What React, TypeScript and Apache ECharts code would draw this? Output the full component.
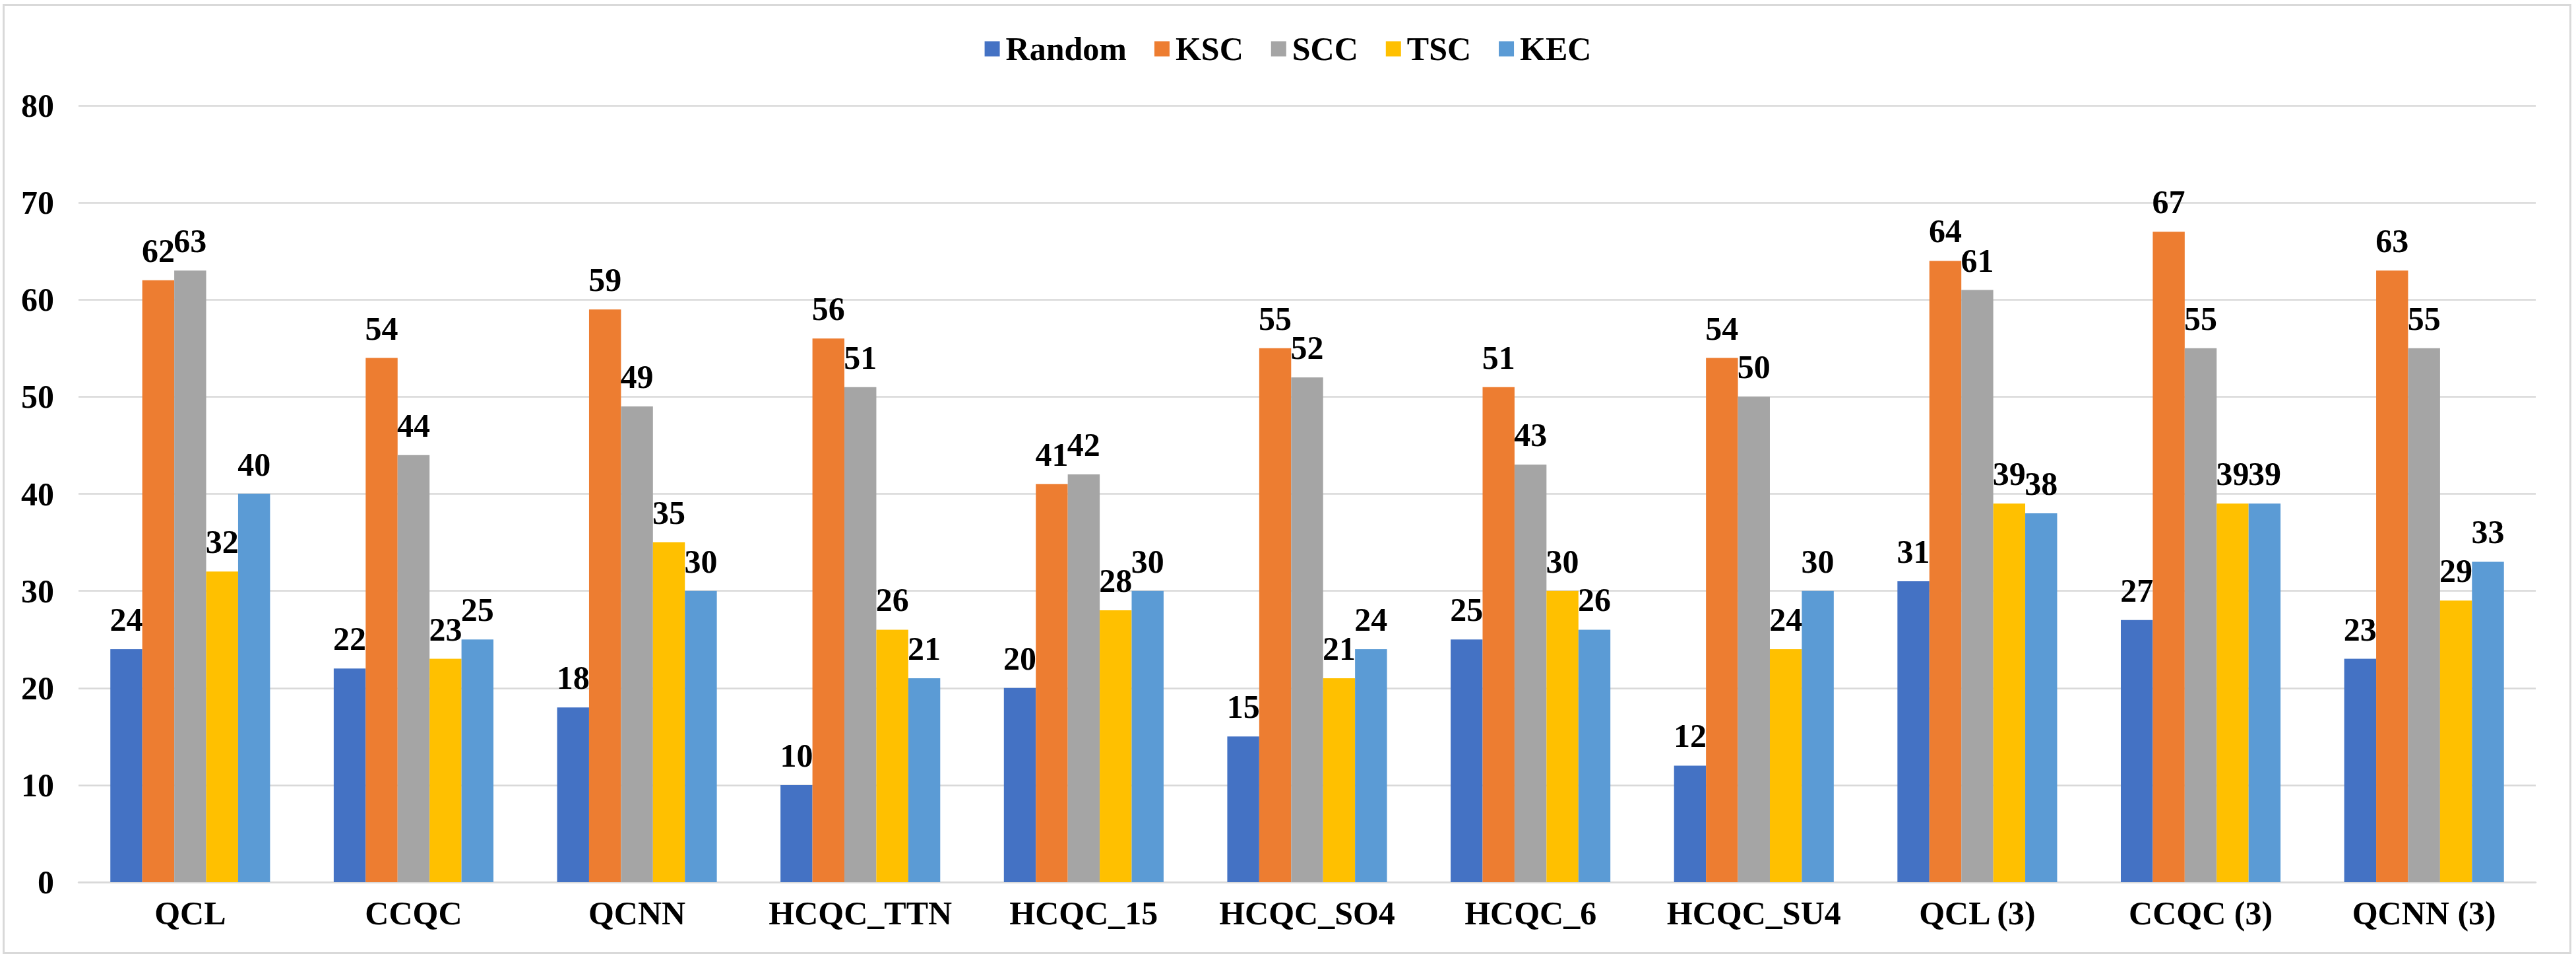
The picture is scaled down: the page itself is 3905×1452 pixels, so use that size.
import React, { useEffect, useRef } from "react";
import * as echarts from "echarts";

const categories = [
  "QCL",
  "CCQC",
  "QCNN",
  "HCQC_TTN",
  "HCQC_15",
  "HCQC_SO4",
  "HCQC_6",
  "HCQC_SU4",
  "QCL (3)",
  "CCQC (3)",
  "QCNN (3)",
];

const seriesNames = ["Random", "KSC", "SCC", "TSC", "KEC"];

const randomValues = [24, 22, 18, 10, 20, 15, 25, 12, 31, 27, 23];
const kscValues = [62, 54, 59, 56, 41, 55, 51, 54, 64, 67, 63];
const sccValues = [63, 44, 49, 51, 42, 52, 43, 50, 61, 55, 55];
const tscValues = [32, 23, 35, 26, 28, 21, 30, 24, 39, 39, 29];
const kecValues = [40, 25, 30, 21, 30, 24, 26, 30, 38, 39, 33];

const colors = ["#4472C4", "#ED7D31", "#A5A5A5", "#FFC000", "#5B9BD5"];

const FONT = "Liberation Serif";

export default function App() {
  const ref = useRef<HTMLDivElement>(null);

  useEffect(() => {
    if (!ref.current) return;
    const chart = echarts.init(ref.current, null, { renderer: "svg" });
    const allValues = [randomValues, kscValues, sccValues, tscValues, kecValues];
    chart.setOption({
      animation: false,
      backgroundColor: "#ffffff",
      color: colors,
      textStyle: { fontFamily: FONT },
      graphic: [
        {
          type: "rect",
          left: 3,
          top: 5,
          shape: { x: 0, y: 0, width: 3891, height: 1437 },
          style: { fill: "none", stroke: "#D9D9D9", lineWidth: 3 },
          silent: true,
          z: -1,
        },
      ],
      legend: {
        top: 44,
        left: "center",
        itemWidth: 23,
        itemHeight: 23,
        itemGap: 42,
        icon: "rect",
        data: seriesNames,
        textStyle: {
          fontFamily: FONT,
          fontSize: 50,
          fontWeight: "bold",
          color: "#000000",
          padding: [0, 0, 0, 4],
        },
      },
      grid: {
        left: 119,
        right: 61,
        top: 160,
        bottom: 115,
        containLabel: false,
      },
      xAxis: {
        type: "category",
        data: categories,
        axisLine: { show: true, lineStyle: { color: "#D9D9D9", width: 2.5 } },
        axisTick: { show: false },
        axisLabel: {
          margin: 22,
          fontFamily: FONT,
          fontSize: 50,
          fontWeight: "bold",
          color: "#000000",
          interval: 0,
        },
      },
      yAxis: {
        type: "value",
        min: 0,
        max: 80,
        interval: 10,
        axisLine: { show: false },
        axisTick: { show: false },
        splitLine: { show: true, lineStyle: { color: "#D9D9D9", width: 2.5 } },
        axisLabel: {
          margin: 37,
          fontFamily: FONT,
          fontSize: 50,
          fontWeight: "bold",
          color: "#000000",
        },
      },
      series: seriesNames.map((name, i) => ({
        name,
        type: "bar",
        data: allValues[i],
        barGap: "0%",
        barCategoryGap: "28.5%",
        itemStyle: { color: colors[i] },
        label: {
          show: true,
          position: "top",
          distance: 20,
          fontFamily: FONT,
          fontSize: 50,
          fontWeight: "bold",
          color: "#000000",
        },
      })),
    });
    return () => chart.dispose();
  }, []);

  return (
    <div
      ref={ref}
      style={{ position: "absolute", left: 0, top: 0, width: 3905, height: 1452 }}
    />
  );
}
